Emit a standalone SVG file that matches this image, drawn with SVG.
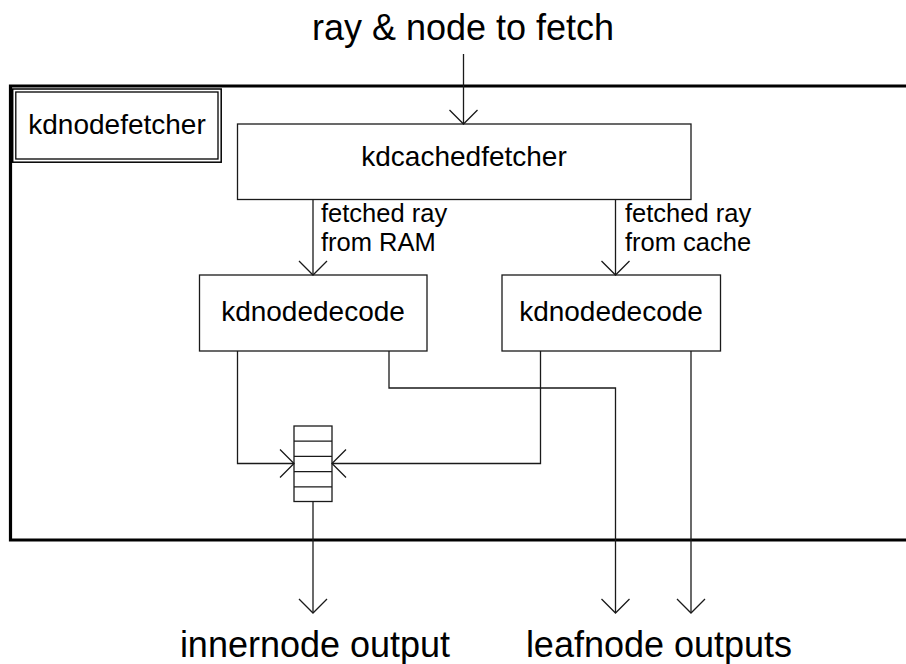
<svg xmlns="http://www.w3.org/2000/svg" width="906" height="664" viewBox="0 0 906 664">
  <style>
    .box { fill: #fff; stroke: #1a1a1a; stroke-width: 1.3; }
    .wire { fill: none; stroke: #1a1a1a; stroke-width: 1.3; }
    .frame { fill: none; stroke: #000; stroke-width: 3.2; }
    .lbl { font-family: "Liberation Sans", Arial, sans-serif; fill: #000; }
    .node { font-size: 28px; text-anchor: middle; }
    .edge { font-size: 25.5px; }
    .big { font-size: 36px; text-anchor: middle; }
  </style>
  <defs>
    <marker id="arr" markerUnits="userSpaceOnUse" markerWidth="16" markerHeight="30" viewBox="-15 -15 16 30" refX="0" refY="0" orient="auto" overflow="visible">
      <path d="M-14,-14 L0,0 L-14,14" fill="none" stroke="#1a1a1a" stroke-width="1.3"/>
    </marker>
  </defs>

  <rect width="906" height="664" fill="#fff"/>

  <!-- enclosing kdnodefetcher frame (open to the right) -->
  <g id="kdnodefetcher">
    <path class="frame" d="M906,86 H10.5 V540 H906"/>
    <rect x="12.7" y="89" width="208.5" height="73.2" fill="#fff" stroke="#000" stroke-width="1.5"/>
    <rect x="15.8" y="92" width="202.2" height="67" fill="none" stroke="#000" stroke-width="1.3"/>
    <text class="lbl node" x="117" y="134">kdnodefetcher</text>
  </g>

  <!-- external labels -->
  <g id="input-label">
    <text class="lbl big" x="463" y="40">ray &amp; node to fetch</text>
  </g>
  <g id="output-labels">
    <text class="lbl big" x="315" y="657">innernode output</text>
    <text class="lbl big" x="659" y="657">leafnode outputs</text>
  </g>

  <g id="kdcachedfetcher">
    <rect class="box" x="237.5" y="124" width="453.5" height="75.5"/>
    <text class="lbl node" x="464" y="166">kdcachedfetcher</text>
  </g>

  <g id="kdnodedecode-ram">
    <rect class="box" x="199.5" y="275" width="227.5" height="76"/>
    <text class="lbl node" x="313" y="321">kdnodedecode</text>
  </g>

  <g id="kdnodedecode-cache">
    <rect class="box" x="502" y="275" width="218.5" height="76"/>
    <text class="lbl node" x="611" y="321">kdnodedecode</text>
  </g>

  <!-- merge queue -->
  <g id="queue">
    <rect class="box" x="294" y="426" width="38" height="75.5"/>
    <path class="wire" d="M294,441.2 H332 M294,456.4 H332 M294,471.6 H332 M294,486.8 H332"/>
  </g>

  <g id="connectors">
    <line class="wire" x1="463.5" y1="54" x2="463.5" y2="124" marker-end="url(#arr)"/>
    <line class="wire" x1="313" y1="199.5" x2="313" y2="275" marker-end="url(#arr)"/>
    <line class="wire" x1="615.5" y1="199.5" x2="615.5" y2="275" marker-end="url(#arr)"/>
    <polyline class="wire" points="237.5,351 237.5,463.5 294,463.5" marker-end="url(#arr)"/>
    <polyline class="wire" points="540.5,351 540.5,463.5 332,463.5" marker-end="url(#arr)"/>
    <polyline class="wire" points="389,351 389,388 615.5,388 615.5,613" marker-end="url(#arr)"/>
    <line class="wire" x1="691" y1="351" x2="691" y2="613" marker-end="url(#arr)"/>
    <line class="wire" x1="313" y1="501.5" x2="313" y2="613" marker-end="url(#arr)"/>
  </g>

  <g id="edge-labels">
    <text class="lbl edge" x="321" y="221.8">fetched ray</text>
    <text class="lbl edge" x="321" y="250.5">from RAM</text>
    <text class="lbl edge" x="625" y="221.8">fetched ray</text>
    <text class="lbl edge" x="625" y="250.5">from cache</text>
  </g>
</svg>
